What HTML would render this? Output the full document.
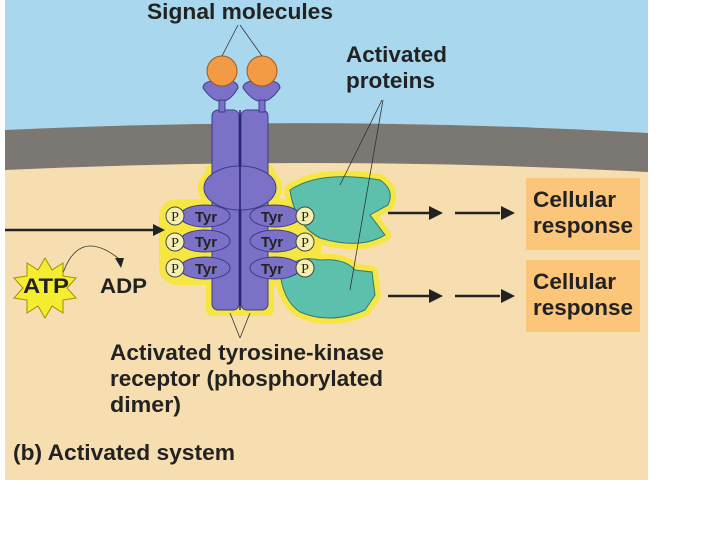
<!DOCTYPE html>
<html><head><style>
body{margin:0;width:720px;height:540px;background:#fff;overflow:hidden}
svg text{font-family:"Liberation Sans",sans-serif;font-weight:bold;fill:#222}
</style></head><body>
<svg width="720" height="540" viewBox="0 0 720 540">
<rect x="5" y="0" width="643" height="480" fill="#f7deb0"/>
<path d="M5 0H648V133Q330 115 5 130Z" fill="#a9d8ee"/>
<path d="M5 130Q330 115 648 133V172Q330 155 5 170Z" fill="#7b7773"/>
<g fill="#f5e830" stroke="#f5e830" stroke-width="12" stroke-linejoin="round" opacity="0.85">
<path d="M290 190Q320 170 380 180Q395 190 388 205L370 215L385 235Q360 250 320 238Q295 225 290 190Z"/>
<path d="M280 270Q300 255 320 260Q345 258 355 270L372 272L375 295L365 310Q330 325 300 312Q282 300 280 270Z"/>
<ellipse cx="240" cy="188" rx="36" ry="22"/>
<rect x="165" y="205" width="150" height="74" rx="12"/>
<rect x="212" y="170" width="56" height="140"/>
</g>
<path d="M290 190Q320 170 380 180Q395 190 388 205L370 215L385 235Q360 250 320 238Q295 225 290 190Z" fill="#5cc0ac" stroke="#2f7a6c"/>
<path d="M280 270Q300 255 320 260Q345 258 355 270L372 272L375 295L365 310Q330 325 300 312Q282 300 280 270Z" fill="#5cc0ac" stroke="#2f7a6c"/>
<g fill="#7b72c8" stroke="#3d3a8a">
<rect x="212" y="110" width="27" height="200" rx="6"/>
<rect x="241" y="110" width="27" height="200" rx="6"/>
<ellipse cx="240" cy="188" rx="36" ry="22"/>
<path d="M203 88Q222 115 238 88Q238 80 222 80Q203 80 203 88Z"/>
<path d="M243 88Q262 115 280 88Q280 80 262 80Q243 80 243 88Z"/>
<rect x="219" y="100" width="6" height="12"/><rect x="259" y="100" width="6" height="12"/>
<ellipse cx="205" cy="216" rx="25" ry="11"/><ellipse cx="205" cy="241" rx="25" ry="11"/><ellipse cx="205" cy="268" rx="25" ry="11"/>
<ellipse cx="275" cy="216" rx="25" ry="11"/><ellipse cx="275" cy="241" rx="25" ry="11"/><ellipse cx="275" cy="268" rx="25" ry="11"/>
</g>
<line x1="240" y1="110" x2="240" y2="310" stroke="#23236a" stroke-width="1.5"/>
<circle cx="222" cy="71" r="15" fill="#f39a45" stroke="#9a5a20"/>
<circle cx="262" cy="71" r="15" fill="#f39a45" stroke="#9a5a20"/>
<g fill="#f5f0b0" stroke="#444">
<circle cx="175" cy="216" r="9"/><circle cx="175" cy="242" r="9"/><circle cx="175" cy="268" r="9"/>
<circle cx="305" cy="216" r="9"/><circle cx="305" cy="242" r="9"/><circle cx="305" cy="268" r="9"/>
</g>
<g font-size="15" text-anchor="middle">
<text x="206" y="222">Tyr</text><text x="206" y="247">Tyr</text><text x="206" y="274">Tyr</text>
<text x="272" y="222">Tyr</text><text x="272" y="247">Tyr</text><text x="272" y="274">Tyr</text>
</g>
<g font-size="14" text-anchor="middle">
<text x="175" y="221" style="font-family:'Liberation Serif';font-weight:normal">P</text><text x="175" y="247" style="font-family:'Liberation Serif';font-weight:normal">P</text><text x="175" y="273" style="font-family:'Liberation Serif';font-weight:normal">P</text>
<text x="305" y="221" style="font-family:'Liberation Serif';font-weight:normal">P</text><text x="305" y="247" style="font-family:'Liberation Serif';font-weight:normal">P</text><text x="305" y="273" style="font-family:'Liberation Serif';font-weight:normal">P</text>
</g>
<g stroke="#333" stroke-width="0.8" fill="none">
<line x1="222" y1="56" x2="238" y2="25"/><line x1="262" y1="56" x2="240" y2="25"/>
<line x1="340" y1="185" x2="382" y2="100"/><line x1="350" y1="290" x2="383" y2="100"/>
<line x1="230" y1="313" x2="240" y2="338"/><line x1="250" y1="313" x2="240" y2="338"/>
<path d="M60 283Q75 225 118 258"/>
</g>
<g stroke="#222" stroke-width="2.5">
<line x1="5" y1="230" x2="155" y2="230"/>
<line x1="388" y1="213" x2="430" y2="213"/><line x1="455" y1="213" x2="500" y2="213"/>
<line x1="388" y1="296" x2="430" y2="296"/><line x1="455" y1="296" x2="500" y2="296"/>
</g>
<g fill="#222">
<path d="M165 230l-12 -6v12z"/>
<path d="M443 213l-14 -7v14z"/><path d="M515 213l-14 -7v14z"/>
<path d="M443 296l-14 -7v14z"/><path d="M515 296l-14 -7v14z"/>
<path d="M121 268l-6 -10h9z"/>
</g>
<path d="M45 258l7 12 11-7 0 13 13 2-9 10 9 10-13 2 0 13-11-7-7 12-7-12-11 7 0-13-13-2 9-10-9-10 13-2 0-13 11 7z" fill="#f5ee30" stroke="#a09000"/>
<text x="46" y="293" font-size="21" text-anchor="middle" textLength="46" lengthAdjust="spacingAndGlyphs">ATP</text>
<text x="100" y="293" font-size="21" textLength="47" lengthAdjust="spacingAndGlyphs">ADP</text>
<rect x="526" y="178" width="114" height="72" fill="#fbc57a"/>
<rect x="526" y="260" width="114" height="72" fill="#fbc57a"/>
<g font-size="22.5">
<text x="533" y="207" textLength="83" lengthAdjust="spacingAndGlyphs">Cellular</text><text x="533" y="233" textLength="100" lengthAdjust="spacingAndGlyphs">response</text>
<text x="533" y="289" textLength="83" lengthAdjust="spacingAndGlyphs">Cellular</text><text x="533" y="315" textLength="100" lengthAdjust="spacingAndGlyphs">response</text>
<text x="147" y="19" textLength="186" lengthAdjust="spacingAndGlyphs">Signal molecules</text>
<text x="346" y="62" textLength="101" lengthAdjust="spacingAndGlyphs">Activated</text><text x="346" y="88" textLength="89" lengthAdjust="spacingAndGlyphs">proteins</text>
<text x="110" y="360" textLength="274" lengthAdjust="spacingAndGlyphs">Activated tyrosine-kinase</text>
<text x="110" y="386" textLength="273" lengthAdjust="spacingAndGlyphs">receptor (phosphorylated</text>
<text x="110" y="412" textLength="71" lengthAdjust="spacingAndGlyphs">dimer)</text>
<text x="13" y="460" textLength="222" lengthAdjust="spacingAndGlyphs">(b) Activated system</text>
</g>
</svg>
</body></html>
